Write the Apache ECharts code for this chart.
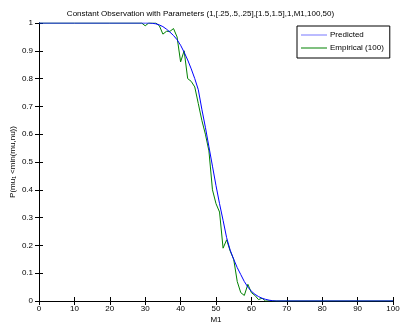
<!DOCTYPE html>
<html><head><meta charset="utf-8">
<script src="https://cdn.jsdelivr.net/npm/echarts@6/dist/echarts.min.js"></script>
<style>html,body{margin:0;padding:0;background:#fff}#c{width:401px;height:324px}</style>
</head><body><div id="c"></div>
<script>
var titleText = 'Constant Observation with Parameters (1,[.25,.5,.25],[1.5,1.5],1,M1,100,50)';
var xTicks = [0,10,20,30,40,50,60,70,80,90,100];
var predictedX = [0,10,20,30,31,32,33,34,35,36,37,38,39,40,41,42,43,44,45,46,47,48,49,50,51,52,53,54,55,56,57,58,59,60,61,62,63,64,65,66,67,80,100];
var predictedY = [1,1,1,1,1,0.999,0.997,0.993,0.987,0.978,0.967,0.955,0.94,0.92,0.895,0.867,0.835,0.80,0.76,0.69,0.625,0.555,0.485,0.415,0.35,0.29,0.228,0.183,0.15,0.12,0.095,0.07,0.05,0.035,0.024,0.016,0.01,0.006,0.003,0.001,0,0,0];
var empiricalX = [0,10,20,29,30,31,32,33,34,35,36,37,38,39,40,41,42,43,44,45,46,47,48,49,50,51,52,53,54,55,56,57,58,59,60,61,62,63,64,65,80,100];
var empiricalY = [1,1,1,1,0.99,1,1,1,0.99,0.96,0.97,0.97,0.98,0.95,0.86,0.90,0.80,0.79,0.77,0.71,0.65,0.60,0.54,0.40,0.35,0.32,0.19,0.22,0.18,0.15,0.07,0.03,0.02,0.06,0.03,0.02,0.005,0.01,0,0,0,0];

function pairs(xs, ys){ return xs.map(function(x,i){ return [x, ys[i]]; }); }
var font = 'Liberation Sans, Arial, sans-serif';
var chart = echarts.init(document.getElementById('c'), null, {renderer:'canvas'});
var axisCommon = {
  axisLine:{show:true, lineStyle:{color:'#000', width:1}},
  axisTick:{show:true, inside:true, length:4, lineStyle:{color:'#000'}},
  splitLine:{show:false}
};
chart.setOption({
  animation:false,
  backgroundColor:'#fff',
  title:{text:titleText, left:'center', top:5, textStyle:{fontSize:8, fontWeight:'normal', color:'#000', fontFamily:font}},
  grid:{left:39, right:8, top:23, bottom:23, show:false, containLabel:false, outerBoundsMode:'none'},
  legend:{
    orient:'vertical', left:297, top:26, width:95,
    borderColor:'#000', borderWidth:1, padding:[5,6,6,4], itemGap:5,
    itemWidth:26, itemHeight:1, icon:'rect',
    textStyle:{fontSize:8, color:'#000', fontFamily:font, padding:[0,0,0,-2]},
    data:[{name:'Predicted', itemStyle:{color:'#7777ff'}},{name:'Empirical (100)', itemStyle:{color:'#008000'}}]
  },
  xAxis:[
    Object.assign({type:'value', min:0, max:100, interval:10, position:'bottom',
      name:'M1', nameLocation:'middle', nameGap:15, nameMoveOverlap:false,
      nameTextStyle:{fontSize:8, color:'#000', fontFamily:font},
      axisLabel:{fontSize:8, color:'#000', fontFamily:font, margin:4}}, axisCommon),
    Object.assign({type:'value', min:0, max:100, interval:10, position:'top',
      axisLabel:{show:false}}, axisCommon)
  ],
  yAxis:[
    Object.assign({type:'value', min:0, max:1, interval:0.1, position:'left',
      name:'P(mu\u2081 <min(mu,nu))', nameLocation:'middle', nameGap:22, nameRotate:90, nameMoveOverlap:false,
      nameTextStyle:{fontSize:8, color:'#000', fontFamily:font},
      axisLabel:{fontSize:8, color:'#000', fontFamily:font, margin:6}}, axisCommon),
    Object.assign({type:'value', min:0, max:1, interval:0.1, position:'right',
      axisLabel:{show:false}}, axisCommon)
  ],
  series:[
    {name:'Predicted', type:'line', data:pairs(predictedX, predictedY), symbol:'none',
      lineStyle:{color:'#0000ff', width:1}, itemStyle:{color:'#0000ff'}, z:3},
    {name:'Empirical (100)', type:'line', data:pairs(empiricalX, empiricalY), symbol:'none',
      lineStyle:{color:'#008000', width:1}, itemStyle:{color:'#008000'}, z:2}
  ]
});
</script></body></html>
